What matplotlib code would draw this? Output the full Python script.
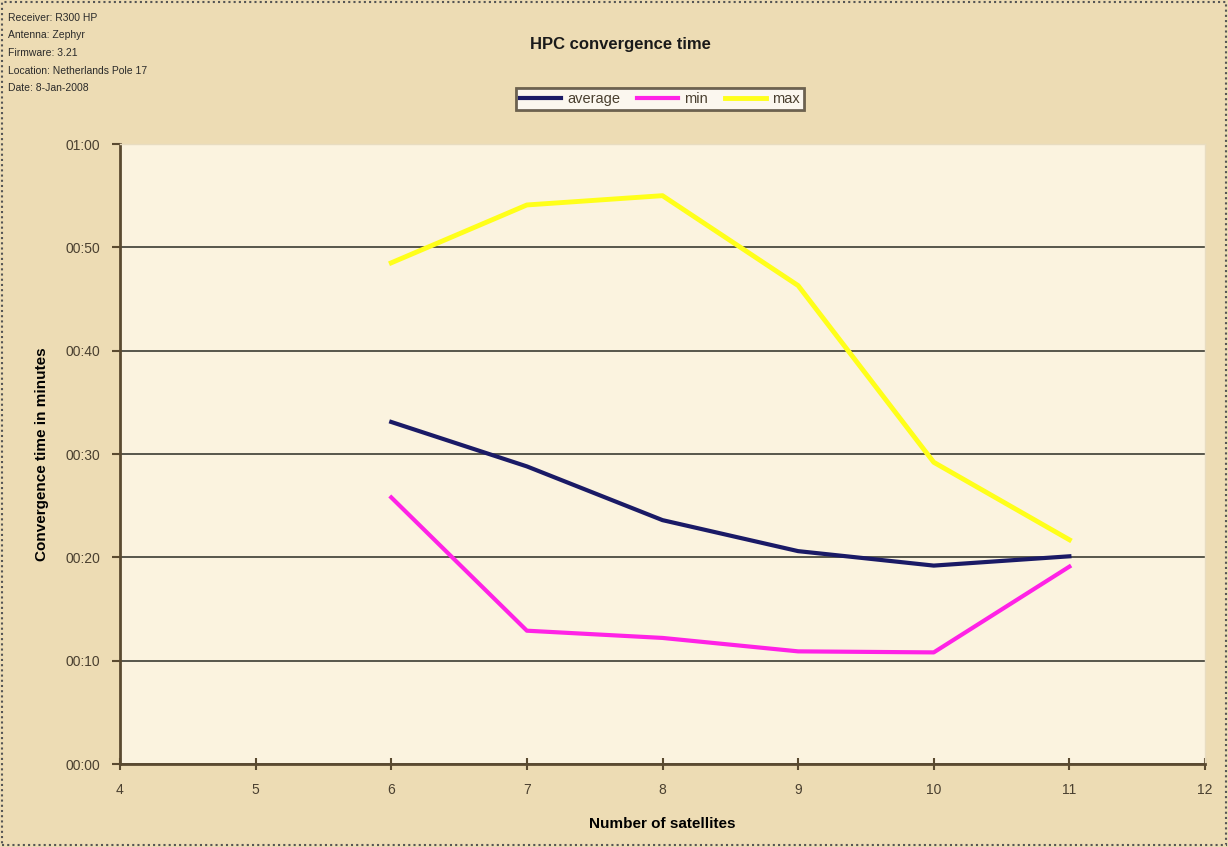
import matplotlib
matplotlib.use("Agg")
import matplotlib.pyplot as plt
from matplotlib.ticker import FuncFormatter, MultipleLocator
from matplotlib.patches import Rectangle

satellites = [6, 7, 8, 9, 10, 11]
average = [33.1, 28.8, 23.6, 20.6, 19.2, 20.1]
minimum = [25.8, 12.9, 12.2, 10.9, 10.8, 19.1]
maximum = [48.5, 54.1, 55.0, 46.3, 29.2, 21.7]
info_lines = ["Receiver: R300 HP", "Antenna: Zephyr", "Firmware: 3.21",
              "Location: Netherlands Pole 17", "Date: 8-Jan-2008"]

plt.rcParams['font.family'] = ['Liberation Sans', 'DejaVu Sans']

W, H = 1228, 847
fig = plt.figure(figsize=(W / 100, H / 100), dpi=100, facecolor='#eddcb4')
ax = fig.add_axes([120 / W, 1 - 764 / H, (1205 - 120) / W, (764 - 144) / H])
ax.set_facecolor('#fbf3df')

ax.plot(satellites, maximum, color='#ffff1a', lw=3.5, label='max', zorder=3)
ax.plot(satellites, average, color='#1a1a66', lw=3, label='average', zorder=4)
ax.plot(satellites, minimum, color='#ff22e6', lw=3, label='min', zorder=4)

ax.set_xlim(4, 12)
ax.set_ylim(0, 60)
ax.xaxis.set_major_locator(MultipleLocator(1))
ax.yaxis.set_major_locator(MultipleLocator(10))
ax.yaxis.set_major_formatter(FuncFormatter(lambda v, p: f"{int(v)//60:02d}:{int(v)%60:02d}"))
ax.grid(axis='y', color='#4a4a40', lw=1.3, zorder=1)
for s in ['top', 'right']:
    ax.spines[s].set_color('#e8dcc0')
    ax.spines[s].set_linewidth(1)
for s in ['left', 'bottom']:
    ax.spines[s].set_color('#5a4a30')
    ax.spines[s].set_linewidth(2)
ax.tick_params(axis='y', direction='out', length=6, width=1.5, color='#5a4a30',
               labelsize=10, labelcolor='#4a4030', pad=8)
ax.tick_params(axis='x', direction='inout', length=8, width=1.5, color='#5a4a30',
               labelsize=10, labelcolor='#4a4030', pad=10)
ax.set_xlabel('Number of satellites', fontsize=11, fontweight='bold', labelpad=14)
ax.set_ylabel('Convergence time in minutes', fontsize=11, fontweight='bold', labelpad=12)

fig.text(620 / W, 1 - 44 / H, 'HPC convergence time', ha='center', va='center',
         fontsize=12, fontweight='bold', color='#1a1a1a')

for i, t in enumerate(info_lines):
    fig.text(8 / W, 1 - (18 + i * 17.5) / H, t, ha='left', va='center',
             fontsize=7.5, color='#2a2a2a')

handles, labels = ax.get_legend_handles_labels()
order = [1, 2, 0]
leg = fig.legend([handles[i] for i in order], [labels[i] for i in order],
                 loc='center', bbox_to_anchor=(660 / W, 1 - 99 / H), ncol=3,
                 frameon=True, fancybox=False, fontsize=10.5, handlelength=2.8,
                 columnspacing=1.2, handletextpad=0.4, borderpad=0.3)
leg.get_frame().set_edgecolor('#4a4030')
leg.get_frame().set_linewidth(2)
leg.get_frame().set_facecolor('white')
for t in leg.get_texts():
    t.set_color('#4a4030')

fig.patches.append(Rectangle((2 / W, 2 / H), 1 - 4 / W, 1 - 4 / H, transform=fig.transFigure,
                             fill=False, ls=(0, (1, 1.5)), lw=1.5, ec='#555555'))

fig.savefig('out.png', dpi=100, facecolor=fig.get_facecolor())
